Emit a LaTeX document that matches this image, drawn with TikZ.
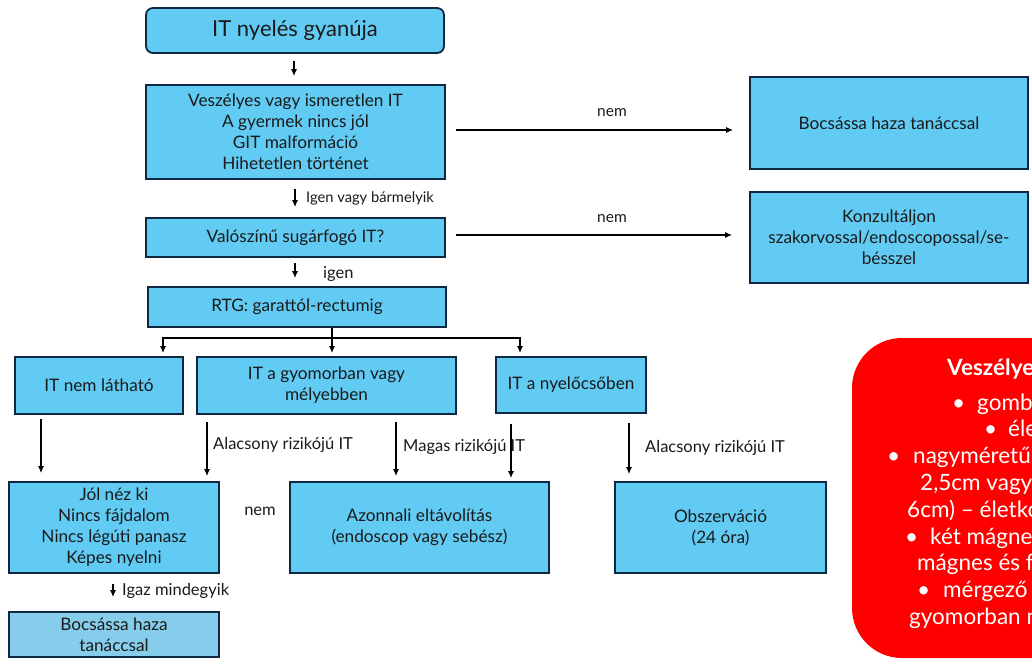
\documentclass[tikz,border=0pt]{standalone}
\usepackage{fontspec}
\setmainfont{Lato}
\usetikzlibrary{arrows.meta,calc}
\definecolor{boxblue}{HTML}{61CBF3}
\definecolor{boxblue2}{HTML}{86CCEB}
\definecolor{navy}{HTML}{0E2841}
\definecolor{txt}{HTML}{1A1A1A}
\newcommand\fsz[2]{\fontsize{#1}{#2}\selectfont}
\tikzset{
  box/.style={draw=navy, line width=1.8pt, fill=boxblue, inner sep=0pt, align=center, text=txt, font=\fsz{17.2}{21}},
  arr/.style={line width=1.2pt, -{Latex[length=7pt,width=6pt]}},
  lab/.style={inner sep=0pt, text=txt, font=\fsz{16.5}{19}},
  redtxt/.style={inner sep=0pt, anchor=mid west, text=white, font=\fsz{22.5}{27}}
}
\begin{document}
\begin{tikzpicture}[x=1pt,y=-1pt]
\useasboundingbox (0,0) rectangle (1032,668);
\clip (0,0) rectangle (1032,668);
\fill[white] (0,0) rectangle (1032,668);

% boxes
\node[box, rounded corners=7pt, minimum width=298pt, minimum height=45pt, font=\fsz{22}{26}] (top) at (295,30.5) {IT nyelés gyanúja};
\node[box, minimum width=299pt, minimum height=94pt] (crit) at (295.5,132) {Veszélyes vagy ismeretlen IT\\A gyermek nincs jól\\GIT malformáció\\Hihetetlen történet};
\node[box, minimum width=299pt, minimum height=39pt] (prob) at (295.5,237.5) {Valószínű sugárfogó IT?};
\node[box, minimum width=298pt, minimum height=40pt] (rtg) at (297,307) {RTG: garattól-rectumig};
\node[box, minimum width=168pt, minimum height=57pt] (nl) at (99,385.5) {IT nem látható};
\node[box, minimum width=259pt, minimum height=57pt] (gy) at (326.5,385.5) {IT a gyomorban vagy\\mélyebben};
\node[box, minimum width=150pt, minimum height=56pt] (ny) at (571,385) {IT a nyelőcsőben};
\node[box, minimum width=210pt, minimum height=91pt] (jol) at (114,527.5) {Jól néz ki\\Nincs fájdalom\\Nincs légúti panasz\\Képes nyelni};
\node[box, minimum width=259pt, minimum height=91pt] (az) at (419.5,527.5) {Azonnali eltávolítás\\(endoscop vagy sebész)};
\node[box, minimum width=211pt, minimum height=91pt] (obs) at (720.5,527.5) {Obszerváció\\(24 óra)};
\node[box, fill=boxblue2, minimum width=210pt, minimum height=45pt] (home2) at (114,634.5) {Bocsássa haza\\tanáccsal};
\node[box, minimum width=278pt, minimum height=92pt] (home1) at (889,123) {Bocsássa haza tanáccsal};
\node[box, minimum width=278pt, minimum height=91pt] (kons) at (889,237.5) {Konzultáljon\\szakorvossal/endoscopossal/se-\\bésszel};

% red box
\fill[red] (852,338) [rounded corners=50pt] rectangle (1300,658);
\node[redtxt, font=\bfseries\fsz{22.5}{27}] (r0) at (947,373) {Veszélyes};
\node[redtxt] (r1) at (952,408) {\makebox[25pt][l]{•}gomb};
\node[redtxt] (r2) at (984,434) {\makebox[24pt][l]{•}éle};
\node[redtxt] (r3) at (887,461) {\makebox[26pt][l]{•}nagyméretű};
\node[redtxt] (r4) at (920,488) {2,5cm vagy};
\node[redtxt] (r5) at (907,515) {6cm) – életko};
\node[redtxt] (r6) at (905,542) {\makebox[25pt][l]{•}két mágne};
\node[redtxt] (r7) at (917,568) {mágnes és f};
\node[redtxt] (r8) at (917,595) {\makebox[26pt][l]{•}mérgező};
\node[redtxt] (r9) at (909,622) {gyomorban m};

% vertical chain
\draw[arr, shorten <=7pt, shorten >=8pt] (top.south -| 294,0) -- (crit.north -| 294,0);
\draw[arr, shorten <=9pt, shorten >=10pt] (crit.south -| 295,0) -- (prob.north -| 295,0);
\node[lab, anchor=west, font=\fsz{14.7}{17}] (l1) at (306,198) {Igen vagy bármelyik};
\draw[arr, shorten <=5pt, shorten >=8pt] (prob.south -| 295,0) -- (rtg.north -| 295,0);
\node[lab, anchor=west, font=\fsz{16.5}{19}] (l2) at (323,274) {igen};

% no branches
\draw[arr, shorten <=10pt, shorten >=16pt] (crit.east |- 0,130) -- (home1.west |- 0,130);
\node[lab, font=\fsz{15.5}{18}] (n1) at (612,113) {nem};
\draw[arr, shorten <=10pt, shorten >=17pt] (prob.east |- 0,235) -- (kons.west |- 0,235);
\node[lab, font=\fsz{15.5}{18}] (n2) at (612,219) {nem};

% RTG split
\coordinate (br) at (332,338);
\draw[line width=1.2pt] (rtg.south -| br) -- (br);
\draw[arr, shorten >=3pt] (br) -| ([xshift=64pt]nl.north);
\draw[arr, shorten >=3pt] (br) -- (gy.north -| br);
\draw[arr, shorten >=3pt] (br) -| ([xshift=-51pt]ny.north);

% lower arrows
\draw[arr, shorten <=4pt, shorten >=8pt] (nl.south -| 41,0) -- (jol.north -| 41,0);
\draw[arr, shorten <=7pt, shorten >=5pt] (gy.south -| 207,0) -- (jol.north -| 207,0);
\node[lab, anchor=west] (l3) at (213,445) {Alacsony rizikójú IT};
\draw[arr, shorten <=7pt, shorten >=5pt] (gy.south -| 396,0) -- (az.north -| 396,0);
\node[lab, anchor=west] (l4) at (403,447) {Magas rizikójú IT};
\draw[arr, shorten <=10pt, shorten >=3pt] (ny.south -| 511,0) -- (az.north -| 511,0);
\draw[arr, shorten <=9pt, shorten >=7pt] (ny.south -| 629,0) -- (obs.north -| 629,0);
\node[lab, anchor=west] (l5) at (645,448) {Alacsony rizikójú IT};
\node[lab] (n3) at (260,511) {nem};
\draw[arr, shorten <=10pt, shorten >=14pt] (jol.south -| 113,0) -- (home2.north -| 113,0);
\node[lab, anchor=west] (l6) at (122,591) {Igaz mindegyik};
\end{tikzpicture}
\end{document}
